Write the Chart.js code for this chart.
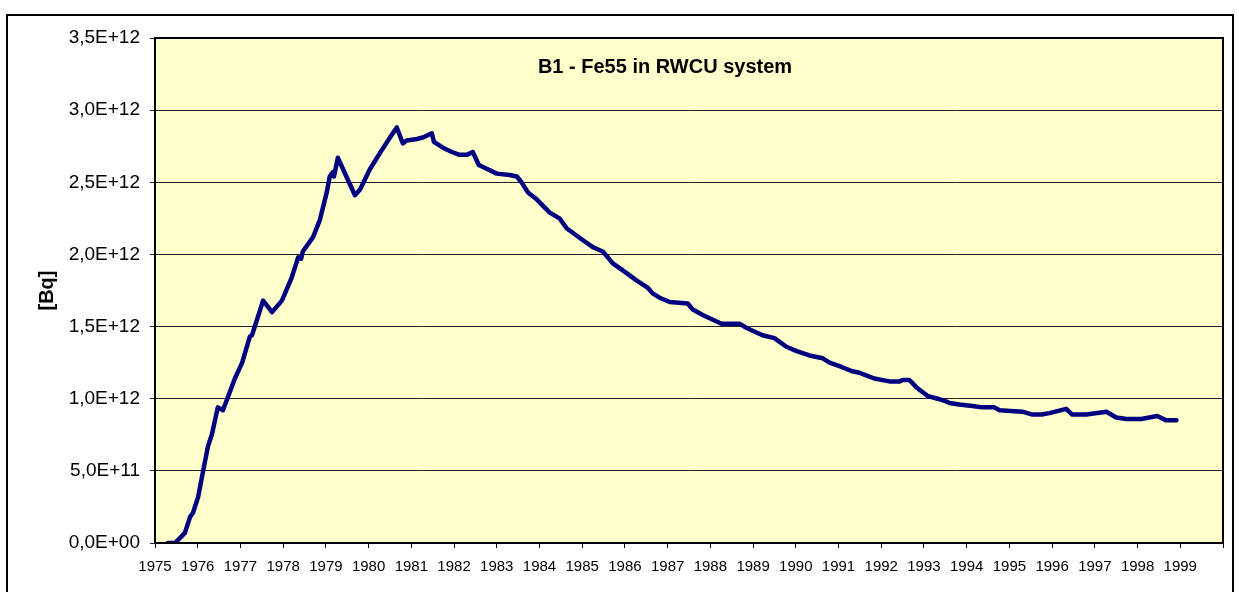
<!DOCTYPE html>
<html>
<head>
<meta charset="utf-8">
<script src="https://cdn.jsdelivr.net/npm/chart.js@4.4.1/dist/chart.umd.min.js"></script>
<style>
  body { margin: 0; background: #fff; }
  #frame { position: absolute; left: 6px; top: 14px; width: 1224px; height: 600px; border: 2px solid #000; }
  #chart { position: absolute; left: 0; top: 0; }
</style>
</head>
<body>
<div id="frame"></div>
<canvas id="chart" width="1239" height="592"></canvas>
<script>
// Fe55 activity in the RWCU system
const years = [
  1975.30, 1975.47, 1975.70, 1975.82, 1975.89, 1976.01, 1976.12, 1976.24, 1976.33, 1976.47,
  1976.59, 1976.68, 1976.87, 1977.04, 1977.22, 1977.27, 1977.39, 1977.53, 1977.74, 1977.97,
  1978.20, 1978.32, 1978.35, 1978.42, 1978.46, 1978.70, 1978.86, 1979.02, 1979.09, 1979.16,
  1979.19, 1979.28, 1979.68, 1979.80, 1980.03, 1980.26, 1980.50, 1980.66, 1980.80, 1980.89,
  1981.13, 1981.27, 1981.48, 1981.53, 1981.74, 1981.95, 1982.13, 1982.30, 1982.44, 1982.58,
  1982.79, 1983.00, 1983.30, 1983.47, 1983.58, 1983.73, 1983.94, 1984.24, 1984.47, 1984.64,
  1984.78, 1985.01, 1985.25, 1985.48, 1985.60, 1985.71, 1986.04, 1986.27, 1986.53, 1986.65,
  1986.81, 1987.05, 1987.47, 1987.58, 1987.82, 1988.26, 1988.68, 1988.85, 1989.22, 1989.50,
  1989.78, 1990.02, 1990.32, 1990.63, 1990.79, 1991.07, 1991.33, 1991.49, 1991.66, 1991.84,
  1992.19, 1992.43, 1992.50, 1992.66, 1992.82, 1993.08, 1993.32, 1993.53, 1993.60, 1993.83,
  1994.13, 1994.37, 1994.65, 1994.77, 1995.30, 1995.54, 1995.75, 1995.94, 1996.33, 1996.47,
  1996.80, 1997.27, 1997.50, 1997.74, 1998.09, 1998.46, 1998.67, 1998.91
];
// values in units of 1E+12 Bq
const activityE12 = [
  0.00, 0.00, 0.07, 0.18, 0.21, 0.32, 0.49, 0.67, 0.75, 0.94,
  0.92, 0.99, 1.14, 1.25, 1.43, 1.44, 1.55, 1.68, 1.60, 1.68,
  1.84, 1.95, 1.98, 1.97, 2.02, 2.12, 2.24, 2.43, 2.54, 2.57,
  2.54, 2.67, 2.41, 2.45, 2.59, 2.70, 2.81, 2.88, 2.77, 2.79,
  2.80, 2.81, 2.84, 2.78, 2.74, 2.71, 2.69, 2.69, 2.71, 2.62,
  2.59, 2.56, 2.55, 2.54, 2.50, 2.43, 2.38, 2.29, 2.25, 2.18,
  2.15, 2.10, 2.05, 2.02, 1.98, 1.94, 1.87, 1.82, 1.77, 1.73,
  1.70, 1.67, 1.66, 1.62, 1.58, 1.52, 1.52, 1.49, 1.44, 1.42,
  1.36, 1.33, 1.30, 1.28, 1.25, 1.22, 1.19, 1.18, 1.16, 1.14,
  1.12, 1.12, 1.13, 1.13, 1.08, 1.02, 1.00, 0.98, 0.97, 0.96,
  0.95, 0.94, 0.94, 0.92, 0.91, 0.89, 0.89, 0.90, 0.93, 0.89,
  0.89, 0.91, 0.87, 0.86, 0.86, 0.88, 0.85, 0.85
];
const yTicks = [0, 0.5e12, 1.0e12, 1.5e12, 2.0e12, 2.5e12, 3.0e12, 3.5e12];
const chartTitle = 'B1 - Fe55 in RWCU system';
const yTitle = '[Bq]';

const FONT = "'Liberation Sans', Arial, sans-serif";

// Excel style "3,5E+12"
function sci(v) {
  const parts = v.toExponential(1).split('e');
  const exp = parseInt(parts[1], 10);
  const sign = exp < 0 ? '-' : '+';
  const e = String(Math.abs(exp)).padStart(2, '0');
  return parts[0].replace('.', ',') + 'E' + sign + e;
}

const plotArea = {
  id: 'plotArea',
  beforeDraw(chart) {
    const { ctx, chartArea: a } = chart;
    ctx.save();
    ctx.fillStyle = '#FFFFCC';
    ctx.fillRect(a.left, a.top, a.right - a.left, a.bottom - a.top);
    ctx.restore();
  },
  afterDatasetsDraw(chart) {
    const { ctx, chartArea: a } = chart;
    ctx.save();
    ctx.strokeStyle = '#000';
    ctx.lineWidth = 2;
    ctx.strokeRect(a.left, a.top, a.right - a.left, a.bottom - a.top);
    // title sits inside the plot, a bit left of centre
    ctx.fillStyle = '#000';
    ctx.font = 'bold 20px ' + FONT;
    ctx.textAlign = 'center';
    ctx.textBaseline = 'middle';
    ctx.fillText(chartTitle, (a.left + a.right) / 2 - 24, a.top + 29);
    ctx.restore();
  }
};

new Chart(document.getElementById('chart'), {
  type: 'line',
  data: {
    datasets: [{
      data: years.map((y, i) => ({ x: y, y: activityE12[i] * 1e12 })),
      borderColor: '#000080',
      borderWidth: 4.5,
      borderJoinStyle: 'round',
      borderCapStyle: 'round',
      pointRadius: 0,
      tension: 0,
      fill: false,
    }],
  },
  options: {
    responsive: false,
    animation: false,
    layout: { padding: { top: 38, right: 16, left: 0, bottom: 0 } },
    plugins: {
      legend: { display: false },
      tooltip: { enabled: false },
    },
    scales: {
      x: {
        type: 'linear',
        min: 1975,
        max: 2000,
        afterFit: (s) => { s.height = 49; },
        ticks: {
          stepSize: 1,
          autoSkip: false,
          maxRotation: 0,
          padding: 10,
          color: '#000',
          font: { family: FONT, size: 15 },
          callback: (v) => (v < 2000 ? String(v) : ''),
        },
        grid: { drawOnChartArea: false, drawTicks: true, tickLength: 5, color: '#000' },
        border: { color: '#000', width: 2 },
      },
      y: {
        min: 0,
        max: 3.5e12,
        afterFit: (s) => { s.width = 155; },
        afterBuildTicks: (s) => { s.ticks = yTicks.map(v => ({ value: v })); },
        ticks: {
          padding: 10,
          color: '#000',
          font: { family: FONT, size: 19 },
          callback: (v) => sci(v),
        },
        grid: { color: '#222', lineWidth: 1, tickLength: 5 },
        border: { color: '#000', width: 2 },
        title: {
          display: true,
          text: yTitle,
          color: '#000',
          font: { family: FONT, size: 20, weight: 'bold' },
          padding: { top: 35, bottom: 0 },
        },
      },
    },
  },
  plugins: [plotArea],
});
</script>
</body>
</html>
